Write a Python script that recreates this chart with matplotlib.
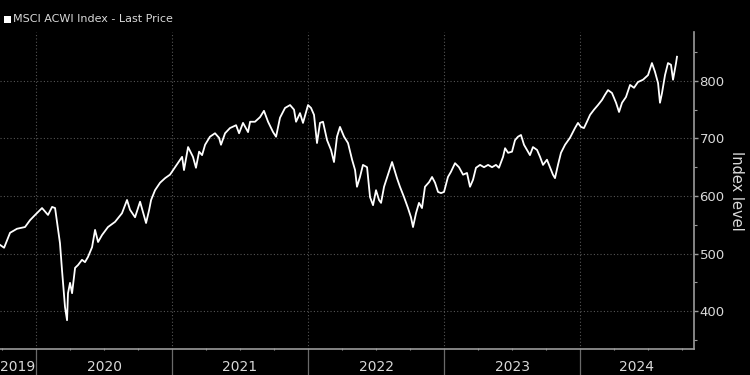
import matplotlib
matplotlib.use("Agg")
import matplotlib.pyplot as plt
from matplotlib.patches import Rectangle
from matplotlib.ticker import MultipleLocator, FixedLocator

# decimal year of each sample and the index level
years = [
    2019.735, 2019.765, 2019.809, 2019.860, 2019.919, 2019.956, 2019.993,
    2020.044, 2020.088, 2020.118, 2020.140, 2020.162, 2020.176, 2020.191,
    2020.213, 2020.228, 2020.235, 2020.250, 2020.265, 2020.287, 2020.309,
    2020.338, 2020.360, 2020.382, 2020.412, 2020.434, 2020.456, 2020.485,
    2020.529, 2020.581, 2020.632, 2020.669, 2020.691, 2020.728, 2020.765,
    2020.809, 2020.831, 2020.846, 2020.875, 2020.912, 2020.949, 2020.985,
    2021.022, 2021.074, 2021.088, 2021.118, 2021.154, 2021.176, 2021.199,
    2021.221, 2021.243, 2021.279, 2021.316, 2021.346, 2021.360, 2021.390,
    2021.426, 2021.471, 2021.493, 2021.522, 2021.559, 2021.574, 2021.610,
    2021.647, 2021.676, 2021.706, 2021.743, 2021.765, 2021.794, 2021.831,
    2021.868, 2021.897, 2021.912, 2021.941, 2021.963, 2022.000, 2022.022,
    2022.044, 2022.066, 2022.088, 2022.110, 2022.140, 2022.169, 2022.191,
    2022.213, 2022.235, 2022.265, 2022.294, 2022.324, 2022.346, 2022.360,
    2022.382, 2022.404, 2022.434, 2022.456, 2022.478, 2022.500, 2022.522,
    2022.537, 2022.559, 2022.588, 2022.618, 2022.640, 2022.654, 2022.676,
    2022.706, 2022.735, 2022.757, 2022.772, 2022.794, 2022.816, 2022.838,
    2022.860, 2022.890, 2022.912, 2022.934, 2022.956, 2022.978, 2023.000,
    2023.029, 2023.051, 2023.081, 2023.110, 2023.140, 2023.169, 2023.191,
    2023.213, 2023.235, 2023.265, 2023.294, 2023.324, 2023.353, 2023.382,
    2023.404, 2023.434, 2023.449, 2023.471, 2023.500, 2023.522, 2023.544,
    2023.566, 2023.588, 2023.610, 2023.632, 2023.654, 2023.684, 2023.706,
    2023.728, 2023.757, 2023.779, 2023.801, 2023.816, 2023.838, 2023.860,
    2023.890, 2023.926, 2023.963, 2023.985, 2024.007, 2024.029, 2024.051,
    2024.074, 2024.103, 2024.132, 2024.162, 2024.184, 2024.206, 2024.235,
    2024.265, 2024.287, 2024.309, 2024.338, 2024.368, 2024.397, 2024.426,
    2024.463, 2024.500, 2024.529, 2024.551, 2024.574, 2024.588, 2024.603,
    2024.625, 2024.647, 2024.669, 2024.684, 2024.706, 2024.713,
]
prices = [
    515, 510, 536, 543, 546, 558, 567,
    579, 567, 581, 579, 541, 518, 471,
    407, 384, 431, 449, 431, 475, 480,
    489, 485, 494, 511, 541, 520, 532,
    546, 555, 570, 593, 576, 563, 590,
    553, 575, 593, 610, 623, 631, 637,
    650, 668, 645, 685, 668, 649, 677,
    671, 689, 703, 709, 701, 689, 709,
    718, 723, 709, 727, 711, 729, 729,
    737, 748, 729, 711, 703, 736, 753,
    758, 750, 729, 744, 727, 758, 753,
    741, 692, 727, 729, 697, 680, 659,
    703, 720, 703, 692, 663, 645, 616,
    633, 654, 650, 598, 584, 610, 593,
    588, 616, 637, 659, 642, 631, 616,
    598, 579, 563, 546, 570, 588, 579,
    616, 624, 633, 623, 607, 605, 607,
    633, 642, 657, 650, 637, 640, 616,
    628, 649, 654, 650, 654, 650, 654,
    649, 668, 683, 675, 677, 697, 703,
    706, 689, 680, 671, 685, 680, 668,
    654, 663, 650, 637, 631, 654, 675,
    689, 701, 718, 727, 720, 718, 729,
    741, 750, 758, 767, 776, 784, 779,
    762, 746, 762, 772, 793, 788, 798,
    802, 810, 831, 816, 796, 762, 779,
    810, 831, 828, 802, 831, 842,
]
year_labels = ['2019', '2020', '2021', '2022', '2023', '2024']
year_starts = [2019, 2020, 2021, 2022, 2023, 2024]

x_min, x_max = 2019.735, 2024.838
y_min, y_max = 334, 885

bg = 'black'
fg = '#d9d9d9'
axis_col = '#9a9a9a'
grid_col = '#555555'

fig = plt.figure(figsize=(7.5, 3.75), dpi=100, facecolor=bg)
ax = fig.add_axes([0.0, 0.0693, 0.9253, 0.8454], facecolor=bg)

ax.plot(years, prices, color='white', linewidth=1.3, solid_joinstyle='round')

ax.set_xlim(x_min, x_max)
ax.set_ylim(y_min, y_max)

# spines: only bottom and right
for side in ['top', 'left']:
    ax.spines[side].set_visible(False)
for side in ['bottom', 'right']:
    ax.spines[side].set_color(axis_col)
    ax.spines[side].set_linewidth(1.2)

# y axis on the right
ax.yaxis.tick_right()
ax.yaxis.set_major_locator(MultipleLocator(100))
ax.yaxis.set_minor_locator(MultipleLocator(50))
ax.tick_params(axis='y', which='major', colors=axis_col, labelcolor=fg,
               labelsize=9.5, length=3, width=1, pad=1)
ax.tick_params(axis='y', which='minor', colors=axis_col, length=2, width=0.8)
ax.set_ylabel('Index level', color=fg, fontsize=10.5, rotation=-90, labelpad=14)
ax.yaxis.set_label_position('right')

# x axis: quarterly ticks, year boundaries as grid lines
ax.xaxis.set_major_locator(FixedLocator(year_starts[1:]))
quarters = [y + q / 4 for y in year_starts for q in range(4)]
ax.xaxis.set_minor_locator(FixedLocator(quarters))
ax.tick_params(axis='x', which='major', length=0, labelbottom=False)
ax.tick_params(axis='x', which='minor', colors=axis_col, length=2,
               width=0.8, direction='inout')

ax.grid(True, which='major', axis='both', color=grid_col,
        linestyle=(0, (1, 2)), linewidth=0.8)
ax.set_axisbelow(True)

# year separators below the axis and centred year labels
for ys in year_starts[1:]:
    ax.plot([ys, ys], [y_min, y_min - 0.09 * (y_max - y_min)], color='#6a6a6a',
            linewidth=0.9, clip_on=False)
for lab, ys in zip(year_labels, year_starts):
    lo = max(ys, x_min)
    hi = min(ys + 1, x_max)
    ax.text((lo + hi) / 2, -0.034, lab, transform=ax.get_xaxis_transform(),
            ha='center', va='top', color=fg, fontsize=10)

# legend entry
fig.patches.append(Rectangle((0.0053, 0.9387), 0.0093, 0.0187,
                             transform=fig.transFigure, facecolor='white',
                             edgecolor='none'))
fig.text(0.0173, 0.949, 'MSCI ACWI Index - Last Price', color=fg,
         fontsize=8, va='center', ha='left')

fig.savefig('out.png', dpi=100, facecolor=bg)
